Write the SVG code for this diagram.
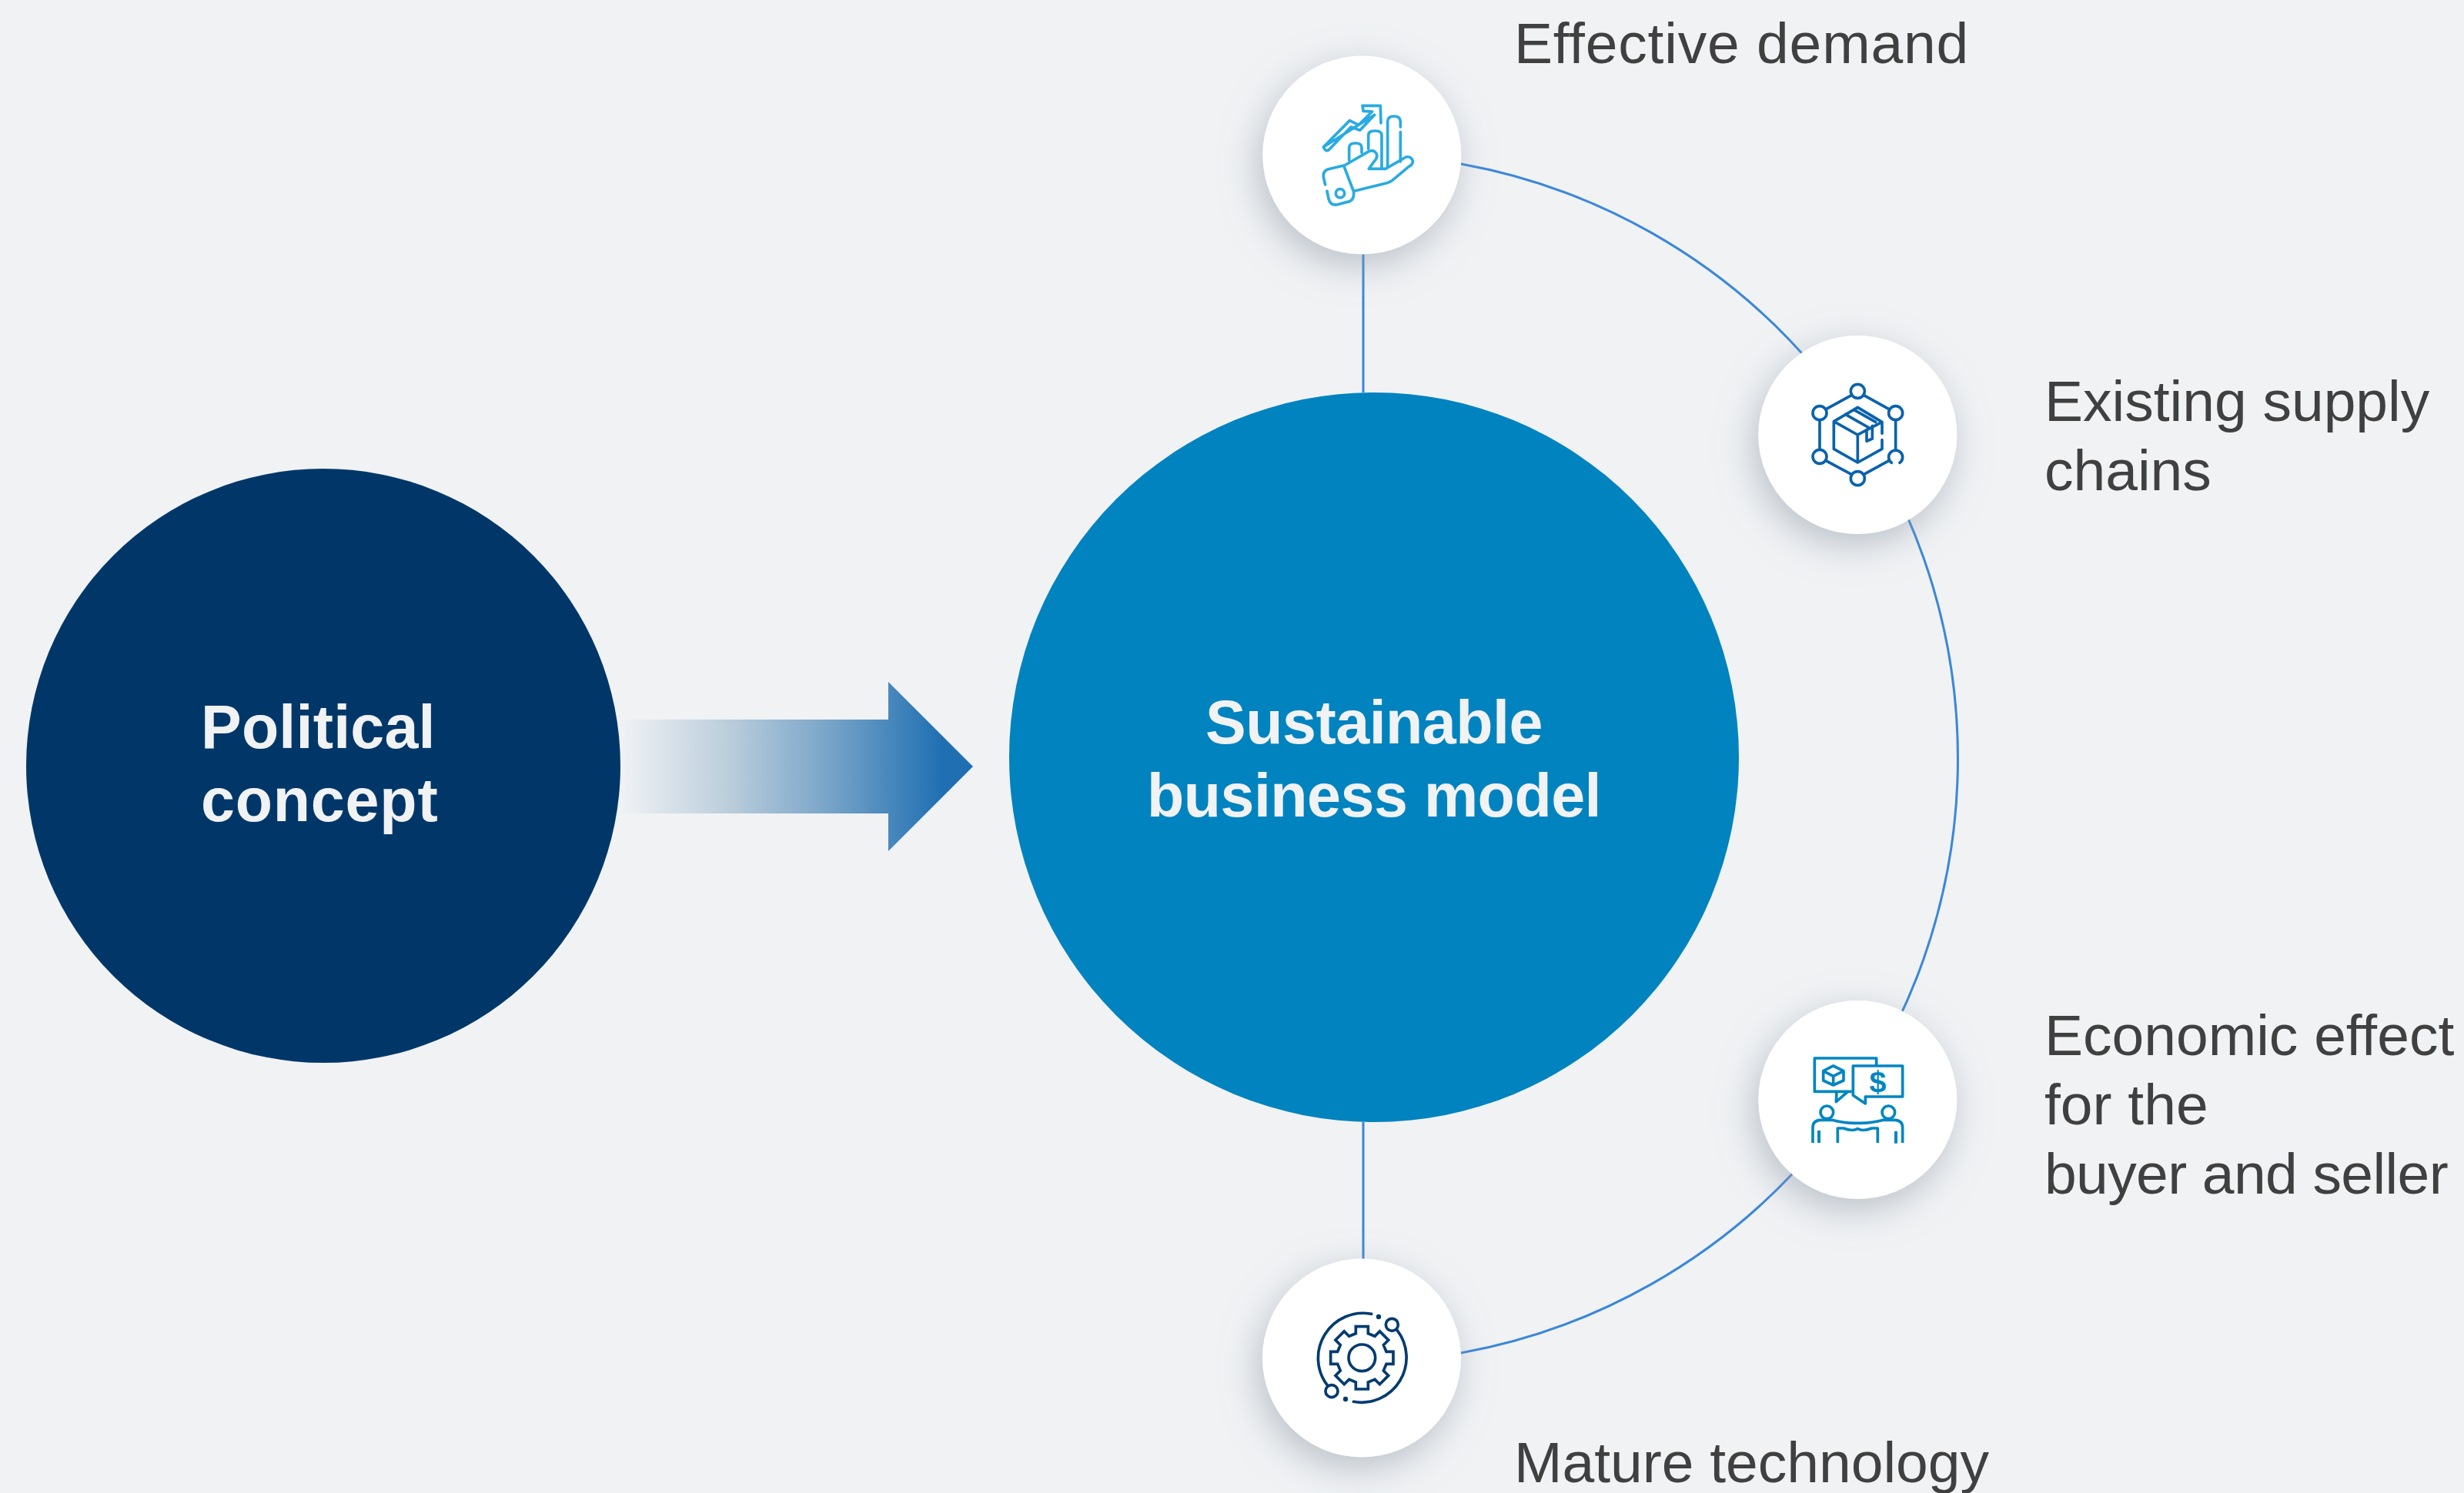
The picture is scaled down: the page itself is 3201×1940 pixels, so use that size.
<svg xmlns="http://www.w3.org/2000/svg" width="3201" height="1940" viewBox="0 0 3201 1940">
<style>
.lbl{font:75px "Liberation Sans",Arial,sans-serif;fill:#404040}
.big{font:bold 79px "Liberation Sans",Arial,sans-serif;fill:#f1f2f4;letter-spacing:-.5px}
.conn{fill:none;stroke:#3b87d8;stroke-width:3}
.ic{fill:none;stroke-width:11;stroke-linecap:round;stroke-linejoin:round}
.ic2{fill:none;stroke-width:11;stroke-linecap:butt;stroke-linejoin:round}
</style>
<defs>
<linearGradient id="ag" gradientUnits="userSpaceOnUse" x1="806" y1="0" x2="1225" y2="0">
<stop offset="0" stop-color="#f0f2f4"/><stop offset=".33" stop-color="#bccedc"/><stop offset=".62" stop-color="#7ea8ca"/><stop offset="1" stop-color="#1f6fb2"/>
</linearGradient>
<filter id="sh" x="-40%" y="-40%" width="180%" height="180%">
<feDropShadow dx="-6" dy="14" stdDeviation="24" flood-color="#8f98a6" flood-opacity=".55"/>
</filter>
</defs>
<rect id="background" width="3201" height="1940" fill="#f0f2f4"/>
<g id="connectors">
<path class="conn" d="M1771 330V510M1771 1458V1636"/>
<path class="conn" d="M1898 213A785 785 0 0 1 1898 1758"/>
</g>
<g id="arrow"><path fill="url(#ag)" d="M806 935H1154V886L1264 996L1154 1106V1057H806Z"/></g>
<g id="political">
<circle cx="420" cy="995" r="386" fill="#003768"/>
<text class="big" x="261" y="972" style="letter-spacing:.2px">Political</text>
<text class="big" x="261" y="1067" style="letter-spacing:.8px">concept</text>
</g>
<g id="sustainable">
<circle cx="1785" cy="984" r="474" fill="#0083bf"/>
<text class="big" text-anchor="middle" x="1785" y="966">Sustainable</text>
<text class="big" text-anchor="middle" x="1785" y="1061">business model</text>
</g>
<g id="effective-demand">
<circle cx="1769.3" cy="201.5" r="129" fill="#fff" filter="url(#sh)"/>
<g transform="translate(1600 50) scale(.3333)" class="ic" stroke="#29abe2">
<path d="M358 423L460 320L495 337L548 285L513 283L510 262H580L582 330M557 298L500 358L465 345L378 435Q365 442 358 423Z"/>
<path d="M458 475V425Q458 408 483 408Q507 408 507 425V445M533 430V378Q533 360 560 360Q585 360 585 378V505M608 500V325Q608 303 633 303Q658 303 658 325V345M658 365V480"/>
<path d="M445 492L535 440Q555 432 565 450Q570 465 555 480L535 508H600L680 462Q700 458 706 478Q708 490 690 500L630 550Q620 560 600 565L478 595"/>
<path d="M438 498L475 595Q480 625 460 635L410 648Q385 652 378 625L372 595M365 570L358 540Q355 518 375 510L438 495"/>
<circle cx="423" cy="604" r="17"/>
</g>
<text class="lbl" x="1967" y="82" style="letter-spacing:.8px">Effective demand</text>
</g>
<g id="existing-supply-chains">
<circle cx="2413.3" cy="565" r="129" fill="#fff" filter="url(#sh)"/>
<g transform="translate(2260 420) scale(.3333)" class="ic" stroke="#0a62ab">
<circle cx="460" cy="265" r="27"/><circle cx="312" cy="350" r="27"/><circle cx="608" cy="350" r="27"/><circle cx="312" cy="520" r="27"/><circle cx="460" cy="605" r="27"/>
<path d="M592 544A27 27 0 1 1 624 544"/>
<path d="M437 280L337 335M483 280L582 335M312 378V492M608 378V492M335 535L437 590M483 590L580 537"/>
<path d="M555 430V385L460 328L367 383V490L460 543L555 490V455M367 383L460 435L555 385M460 435V543M412 355L505 408M445 337L530 385M495 415V460L517 450V400"/>
</g>
<text class="lbl" x="2656" y="547">Existing supply</text>
<text class="lbl" x="2656" y="637">chains</text>
</g>
<g id="economic-effect">
<circle cx="2413.3" cy="1429" r="129" fill="#fff" filter="url(#sh)"/>
<g transform="translate(2260 1280) scale(.3333)" class="ic2" stroke="#0086c2">
<path d="M437 415H378L376 455L420 417M378 415H292V285H533V315"/>
<path d="M442 315H635V435H490V462L442 430Z"/>
<path d="M365 315L405 335V372L365 390L326 372V335ZM326 335L365 355L405 335M365 355V390"/>
<circle cx="340" cy="496" r="25"/><circle cx="580" cy="496" r="25"/>
<path d="M285 615V555Q285 528 315 526H360Q410 540 460 538Q510 540 560 526H605Q635 528 635 555V615"/>
<path d="M382 615V558H405Q440 572 460 560Q480 572 515 558H538V615"/>
<path d="M309 567V615M609 570V617" stroke-width="12"/>
<text x="538" y="418" text-anchor="middle" font-family="Liberation Sans, Arial, sans-serif" font-weight="bold" font-size="118" fill="#0086c2" stroke="none">$</text>
</g>
<text class="lbl" x="2656" y="1371">Economic effect</text>
<text class="lbl" x="2656" y="1461">for the</text>
<text class="lbl" x="2656" y="1551" style="letter-spacing:-.6px">buyer and seller</text>
</g>
<g id="mature-technology">
<circle cx="1769" cy="1764.5" r="129" fill="#fff" filter="url(#sh)"/>
<g transform="translate(1620 1620) scale(.3333)" class="ic" stroke="#003b70">
<g transform="translate(448 433)"><path stroke-linejoin="miter" d="M-24-95V-122H24V-95L50.2-84.1L69.3-103.2L103.2-69.3L84.1-50.2L95-24H122V24H95L84.1 50.2L103.2 69.3L69.3 103.2L50.2 84.1L24 95V122H-24V95L-50.2 84.1L-69.3 103.2L-103.2 69.3L-84.1 50.2L-95 24H-122V-24H-95L-84.1-50.2L-103.2-69.3L-69.3-103.2L-50.2-84.1Z"/><circle r="52"/></g>
<path d="M485 262A175 175 0 0 0 313 540M415 604A175 175 0 0 0 585 325"/>
<circle cx="330" cy="563" r="24"/><circle cx="565" cy="304" r="24"/>
<circle cx="513" cy="273" r="4" fill="#003b70"/><circle cx="384" cy="594" r="4" fill="#003b70"/>
</g>
<text class="lbl" x="1967" y="1926">Mature technology</text>
</g>
</svg>
